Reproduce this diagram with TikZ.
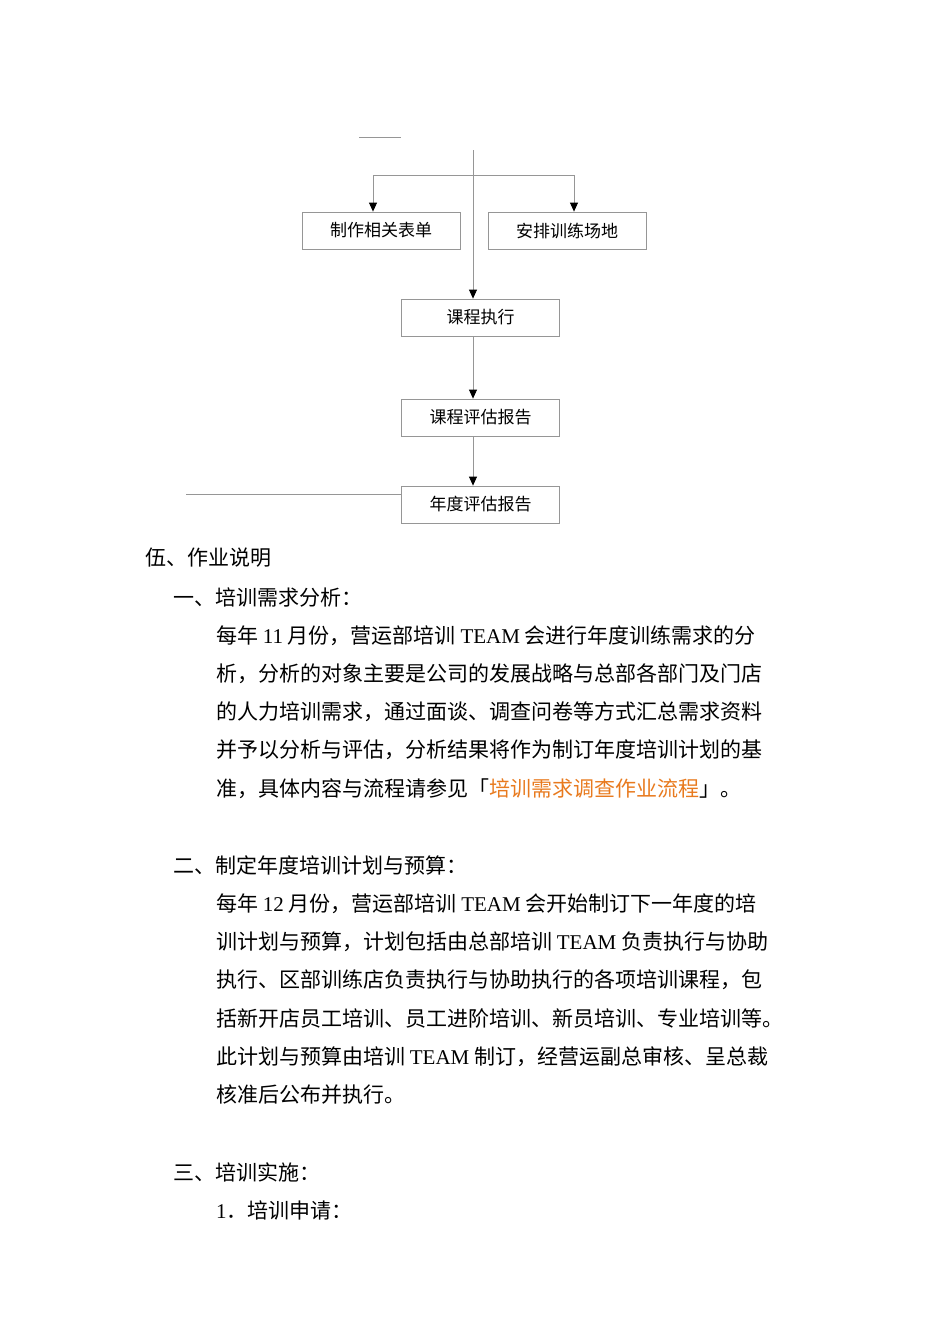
\documentclass[tikz,border=0pt]{standalone}
\usepackage{fontspec}
\usetikzlibrary{arrows.meta}
\setmainfont{Noto Sans CJK SC}
\newfontfamily\lat{Liberation Serif}
\newcommand{\latw}[1]{{\lat #1}}
\definecolor{lnk}{RGB}{232,122,30}
\definecolor{ln}{RGB}{150,150,150}
\begin{document}
\begin{tikzpicture}[x=1pt,y=-1pt,
  box/.style={draw=ln,line width=0.8pt,minimum width=158pt,minimum height=37pt,inner sep=0pt,font=\fontsize{17}{17}\selectfont},
  conn/.style={draw=ln,line width=0.8pt},
  arr/.style={conn,-{Triangle[length=9pt,width=8pt,color=black]}},
  txt/.style={anchor=west,inner sep=0pt,font=\fontsize{21}{21}\selectfont}]
\useasboundingbox (0,0) rectangle (950,1344);
\node[box] (a) at (381,230.5) {制作相关表单};
\node[box] (b) at (567,230.5) {安排训练场地};
\node[box] (c) at (480.5,317.5) {课程执行};
\node[box] (d) at (480.5,417.5) {课程评估报告};
\node[box] (e) at (480.5,504.5) {年度评估报告};
\coordinate (top) at (473,150);
\coordinate (jl) at (373,175);
\coordinate (jr) at (574,175);
\coordinate (s1) at (359,137);
\coordinate (s2) at (401,137);
\coordinate (w) at (186,494);
\draw[conn] (s1) -- (s2);
\draw[arr] (top) -- (top |- c.north);
\draw[conn] (jl) -- (jr);
\draw[arr] (jl) -- (jl |- a.north);
\draw[arr] (jr) -- (jr |- b.north);
\draw[arr] (top |- c.south) -- (top |- d.north);
\draw[arr] (top |- d.south) -- (top |- e.north);
\draw[conn] (w) -- (w -| e.west);
\node[txt] (t0) at (145,558) {伍、作业说明};
\node[txt] (t1) at (173,597) {一、培训需求分析：};
\node[txt] (p1) at (216,636) {每年 \latw{11} 月份，营运部培训 \latw{TEAM} 会进行年度训练需求的分};
\node[txt] (p2) at (216,674) {析，分析的对象主要是公司的发展战略与总部各部门及门店};
\node[txt] (p3) at (216,712) {的人力培训需求，通过面谈、调查问卷等方式汇总需求资料};
\node[txt] (p4) at (216,750) {并予以分析与评估，分析结果将作为制订年度培训计划的基};
\node[txt] (p5) at (216,789) {准，具体内容与流程请参见「\textcolor{lnk}{培训需求调查作业流程}」。};
\node[txt] (t2) at (173,865) {二、制定年度培训计划与预算：};
\node[txt] (q1) at (216,904) {每年 \latw{12} 月份，营运部培训 \latw{TEAM} 会开始制订下一年度的培};
\node[txt] (q2) at (216,942) {训计划与预算，计划包括由总部培训 \latw{TEAM} 负责执行与协助};
\node[txt] (q3) at (216,980) {执行、区部训练店负责执行与协助执行的各项培训课程，包};
\node[txt] (q4) at (216,1018) {括新开店员工培训、员工进阶培训、新员培训、专业培训等。};
\node[txt] (q5) at (216,1057) {此计划与预算由培训 \latw{TEAM} 制订，经营运副总审核、呈总裁};
\node[txt] (q6) at (216,1095) {核准后公布并执行。};
\node[txt] (t3) at (173,1172) {三、培训实施：};
\node[txt] (t4) at (216,1210) {\latw{1}．培训申请：};
\end{tikzpicture}
\end{document}
